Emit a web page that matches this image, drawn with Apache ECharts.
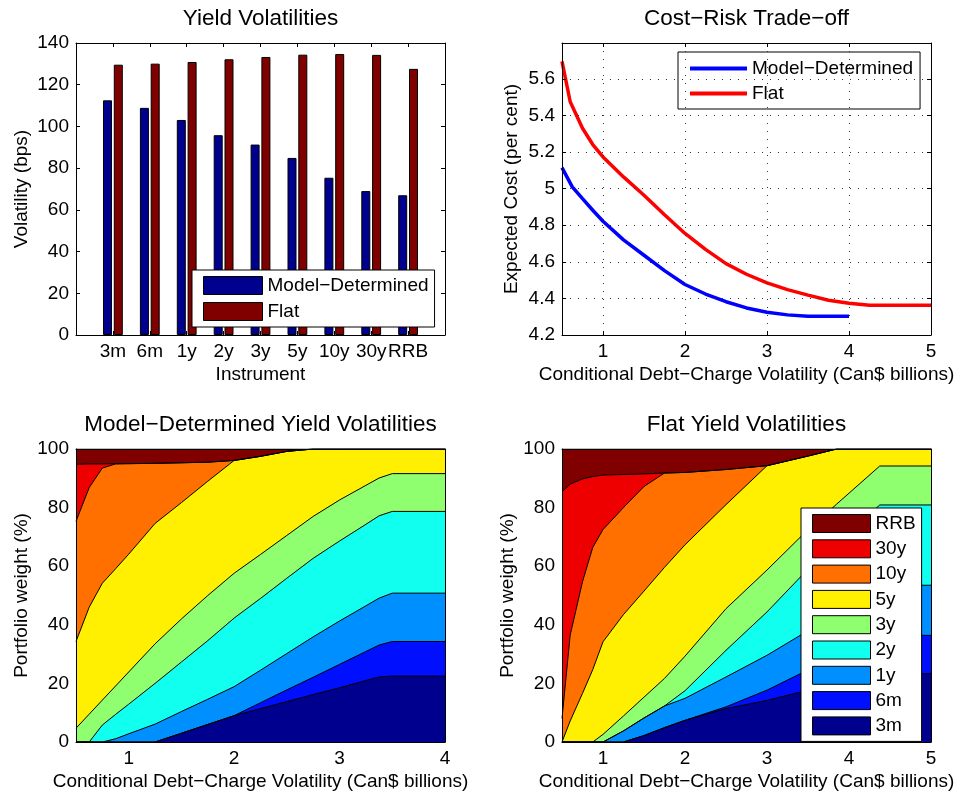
<!DOCTYPE html>
<html><head><meta charset="utf-8">
<script src="https://cdn.jsdelivr.net/npm/echarts@6/dist/echarts.min.js"></script>
<style>html,body{margin:0;padding:0;background:#fff}#c{width:960px;height:799px}</style>
</head><body><div id="c"></div>
<script>
// ---------- data ----------
const instruments = ['3m','6m','1y','2y','3y','5y','10y','30y','RRB'];
const volModel = [112.5,108.9,103.1,95.8,91.3,84.9,75.4,69.0,67.0];
const volFlat  = [129.6,130.1,130.9,132.2,133.3,134.4,134.7,134.3,127.6];

const costModelX = [0.5,0.625,0.75,0.875,1,1.25,1.5,1.75,2,2.25,2.5,2.75,3,3.25,3.5,4];
const costModelY = [5.115,5.01,4.945,4.882,4.822,4.72,4.636,4.552,4.476,4.424,4.382,4.348,4.324,4.31,4.303,4.302];
const costFlatX  = [0.5,0.6,0.75,0.875,1,1.25,1.5,1.75,2,2.25,2.5,2.75,3,3.25,3.5,3.75,4,4.25,4.5,5];
const costFlatY  = [5.696,5.475,5.33,5.241,5.173,5.064,4.964,4.857,4.755,4.668,4.59,4.532,4.485,4.448,4.418,4.39,4.373,4.362,4.362,4.362];

const mdX   = [0.5,0.625,0.75,0.875,1.0,1.25,1.5,1.75,2.0,2.25,2.5,2.75,3.0,3.25,3.375,3.5,4.0];
const md3m  = [0,0,0,0,0,0,3,6,9,11.4,13.8,16.2,18.5,21,22.2,22.5,22.5];
const md6m  = [0,0,0,0,0,0,0,0,0,2,4,5.9,8,9.9,10.9,11.8,11.8];
const md1y  = [0,0,0,1.1,2.8,6.1,7.4,8.6,9.9,11.1,12.4,13.8,14.8,15.6,16,16.5,16.5];
const md2y  = [0,0,5.8,8.3,10.1,13.9,16.9,20,23.4,24.5,25.7,26.8,27.3,27.8,28.1,27.9,27.9];
const md3y  = [4.7,9.5,8.5,9.7,11,13.5,14.7,15.4,15.3,15,14.6,14.3,14,13.3,12.9,12.9,12.9];
const md5y  = [29.6,36.5,39.9,40,40.2,41.1,39.7,39,38.5,33.5,28.7,23,17.4,12.4,9.9,8.4,8.4];
const md10y = [41,40.8,39.3,35.8,30.9,20.5,13.6,6.5,0,0,0,0,0,0,0,0,0];
const md30y = [19.5,8.1,1.4,0.1,0,0,0,0,0,0,0,0,0,0,0,0,0];
const mdRRB = [5.2,5.1,5.1,5,5,4.9,4.7,4.5,3.9,2.5,0.8,0,0,0,0,0,0];

const flX   = [0.5,0.6,0.75,0.875,1.0,1.25,1.5,1.75,2.0,2.5,3.0,3.5,3.85,4.375,5.0];
const fl3m  = [0,0,0,0,0,0,2.2,4.9,7.4,11.4,14.2,17.7,20.3,23.3,23.3];
const fl6m  = [0,0,0,0,0,0,0,0,0,0.6,3.5,6.9,9,13.1,13.1];
const fl1y  = [0,0,0,0,0,3.8,6,7.4,7.5,10.2,11.9,13.4,15,17.1,17.1];
const fl2y  = [0,0,0,0,0,0,0,0,2.6,9.1,14.8,21,23.5,27.4,27.4];
const fl3y  = [0,0,0,0,2.6,5.1,7.1,9.4,11.8,14.2,14.3,13.5,13.4,13.3,13.3];
const fl5y  = [0,7.2,16.6,24.7,31.6,34.6,36.2,37.9,38,35.5,35.6,25.1,18.8,5.8,5.8];
const fl10y = [8,29.3,38.1,41.7,38.3,36.5,35.7,32.2,24.7,12,0,0,0,0,0];
const fl30y = [77.4,51.5,35.1,24.2,18.6,11.3,4.3,0,0,0,0,0,0,0,0];
const flRRB = [14.6,12,10.2,9.4,8.9,8.7,8.5,8.2,8,7,5.7,2.4,0,0,0];

const costTicksX = [1,2,3,4,5];
const mdTicksX = [1,2,3,4];
const flTicksX = [1,2,3,4,5];

// ---------- style ----------
const FONT = '"Liberation Sans", Arial, Helvetica, sans-serif';
const FS = 19;
const jet = ['#00008F','#0010FF','#008FFF','#10FFEF','#8FFF70','#FFEF00','#FF7000','#EF0000','#800000'];
const grids = [
  {left:76,  top:43,  width:369, height:292},
  {left:562, top:43,  width:369, height:292},
  {left:76,  top:449, width:369, height:293},
  {left:562, top:449, width:369, height:293}
];
const labelMap = {barModel:'Model−Determined', barFlat:'Flat', costModel:'Model−Determined', costFlat:'Flat'};

function xAx(gi, pos, min, max, extra) {
  const main = pos === 'bottom';
  const a = {
    type:'value', gridIndex:gi, position:pos, min:min, max:max, z:10,
    axisLine:{show:true, onZero:false, lineStyle:{color:'#000', width:1}},
    axisTick:{show:extra.ticks, inside:true, length:4, lineStyle:{color:'#000'}},
    axisLabel:{show:main, color:'#000', fontSize:FS, fontFamily:FONT, margin:7},
    splitLine:{show:false}
  };
  if (extra.interval) a.interval = extra.interval;
  if (extra.custom) { a.axisTick.customValues = extra.custom; a.axisLabel.customValues = extra.custom; }
  if (extra.formatter && main) a.axisLabel.formatter = extra.formatter;
  if (extra.grid && main) a.splitLine = {show:true, lineStyle:{color:'#333', width:1, type:[1,7]}};
  if (main && extra.name) {
    a.name = extra.name; a.nameLocation = 'middle'; a.nameGap = 30;
    a.nameTextStyle = {color:'#000', fontSize:FS, fontFamily:FONT};
  }
  return a;
}
function yAx(gi, pos, min, max, interval, extra) {
  const main = pos === 'left';
  const a = {
    type:'value', gridIndex:gi, position:pos, min:min, max:max, interval:interval, z:10,
    axisLine:{show:true, onZero:false, lineStyle:{color:'#000', width:1}},
    axisTick:{show:extra.ticks, inside:true, length:4, lineStyle:{color:'#000'}},
    axisLabel:{show:main, color:'#000', fontSize:FS, fontFamily:FONT, margin:7, showMaxLabel:extra.showMax !== false},
    splitLine:{show:false}
  };
  if (extra.grid && main) a.splitLine = {show:true, lineStyle:{color:'#333', width:1, type:[1,7]}};
  if (main && extra.name) {
    a.name = extra.name; a.nameLocation = 'middle'; a.nameGap = extra.nameGap || 45; a.nameRotate = 90;
    a.nameTextStyle = {color:'#000', fontSize:FS, fontFamily:FONT};
  }
  return a;
}

const xAxes = [
  xAx(0,'bottom',0,10,{ticks:true, interval:1, name:'Instrument', formatter:v => (v>=1 && v<=9) ? instruments[v-1] : ''}),
  xAx(0,'top',0,10,{ticks:true, interval:1}),
  xAx(1,'bottom',0.5,5,{ticks:true, custom:costTicksX, grid:true, name:'Conditional Debt−Charge Volatility (Can$ billions)'}),
  xAx(1,'top',0.5,5,{ticks:true, custom:costTicksX}),
  xAx(2,'bottom',0.5,4,{ticks:false, custom:mdTicksX, name:'Conditional Debt−Charge Volatility (Can$ billions)'}),
  xAx(2,'top',0.5,4,{ticks:false, custom:mdTicksX}),
  xAx(3,'bottom',0.5,5,{ticks:false, custom:flTicksX, name:'Conditional Debt−Charge Volatility (Can$ billions)'}),
  xAx(3,'top',0.5,5,{ticks:false, custom:flTicksX})
];
const yAxes = [
  yAx(0,'left',0,140,20,{ticks:true, name:'Volatility (bps)', nameGap:45}),
  yAx(0,'right',0,140,20,{ticks:true}),
  yAx(1,'left',4.2,5.796,0.2,{ticks:true, grid:true, showMax:false, name:'Expected Cost (per cent)', nameGap:41}),
  yAx(1,'right',4.2,5.796,0.2,{ticks:true}),
  yAx(2,'left',0,100,20,{ticks:false, name:'Portfolio weight (%)', nameGap:45}),
  yAx(2,'right',0,100,20,{ticks:false}),
  yAx(3,'left',0,100,20,{ticks:false, name:'Portfolio weight (%)', nameGap:45}),
  yAx(3,'right',0,100,20,{ticks:false})
];

const pair = (xs, ys) => xs.map((x, i) => [x, ys[i]]);
const series = [];
series.push({type:'bar', name:'barModel', xAxisIndex:0, yAxisIndex:0, data:instruments.map((n,i)=>[i+1, volModel[i]]),
  barWidth:9, barGap:'20%', itemStyle:{color:'#00008F', borderColor:'#000', borderWidth:1}});
series.push({type:'bar', name:'barFlat', xAxisIndex:0, yAxisIndex:0, data:instruments.map((n,i)=>[i+1, volFlat[i]]),
  barWidth:9, barGap:'20%', itemStyle:{color:'#800000', borderColor:'#000', borderWidth:1}});
series.push({type:'line', name:'costModel', xAxisIndex:2, yAxisIndex:2, data:pair(costModelX, costModelY), symbol:'none',
  lineStyle:{color:'#0000FF', width:3.5}, itemStyle:{color:'#0000FF'}, z:5});
series.push({type:'line', name:'costFlat', xAxisIndex:2, yAxisIndex:2, data:pair(costFlatX, costFlatY), symbol:'none',
  lineStyle:{color:'#FF0000', width:3.5}, itemStyle:{color:'#FF0000'}, z:5});

const mdSets = [md3m, md6m, md1y, md2y, md3y, md5y, md10y, md30y, mdRRB];
const flSets = [fl3m, fl6m, fl1y, fl2y, fl3y, fl5y, fl10y, fl30y, flRRB];
// cumulative (stacked) tops, computed from the layer arrays
function cumulate(sets) {
  const out = [];
  let run = sets[0].map(() => 0);
  sets.forEach(ys => { run = run.map((v, k) => +(v + ys[k]).toFixed(3)); out.push(run); });
  return out;
}
function addAreas(xs, sets, xi, yi, key) {
  const cum = cumulate(sets);
  for (let i = sets.length - 1; i >= 0; i--) {
    series.push({type:'line', name:instruments[i], xAxisIndex:xi, yAxisIndex:yi, data:pair(xs, cum[i]),
      symbol:'none', lineStyle:{width:0, color:jet[i]}, itemStyle:{color:jet[i]},
      areaStyle:{color:jet[i], opacity:1}, z:2, silent:true});
  }
  for (let i = 0; i < sets.length; i++) {
    series.push({type:'line', name:key + 'Edge' + i, xAxisIndex:xi, yAxisIndex:yi, data:pair(xs, cum[i]),
      symbol:'none', lineStyle:{width:1, color:'#000'}, z:3, silent:true});
  }
}
addAreas(mdX, mdSets, 4, 4, 'md');
addAreas(flX, flSets, 6, 6, 'fl');

const legendBase = {orient:'vertical', backgroundColor:'#fff', borderColor:'#000', borderWidth:1, borderRadius:0,
  textStyle:{color:'#000', fontSize:FS, fontFamily:FONT, lineHeight:18}, selectedMode:false};
const legends = [
  Object.assign({}, legendBase, {left:192, top:270, padding:[6,6,6,11], itemWidth:59, itemHeight:18, itemGap:7, icon:'rect',
    data:['barModel','barFlat'], formatter:n => labelMap[n], itemStyle:{borderColor:'#000', borderWidth:1}}),
  Object.assign({}, legendBase, {left:678, top:52, padding:[7,7,6,12], itemWidth:57, itemHeight:4, itemGap:6, icon:'rect',
    data:['costModel','costFlat'], formatter:n => labelMap[n], itemStyle:{borderWidth:0}}),
  Object.assign({}, legendBase, {left:801, top:508, padding:[6,6,6,11], itemWidth:58, itemHeight:18, itemGap:6.3, icon:'rect',
    data:instruments.slice().reverse(), itemStyle:{borderColor:'#000', borderWidth:1}})
];

const titleFont = {fontSize:22.5, fontFamily:FONT, fill:'#000'};
const titles = [
  {text:'Yield Volatilities', x:260.5, y:7},
  {text:'Cost−Risk Trade−off', x:746.5, y:7},
  {text:'Model−Determined Yield Volatilities', x:260.5, y:413},
  {text:'Flat Yield Volatilities', x:746.5, y:413}
];

const chart = echarts.init(document.getElementById('c'), null, {renderer:'canvas'});
chart.setOption({
  backgroundColor:'#fff',
  animation:false,
  grid:grids,
  xAxis:xAxes,
  yAxis:yAxes,
  legend:legends,
  graphic:titles.map(t => ({type:'text', x:t.x, y:t.y, z:20,
    style:Object.assign({text:t.text, align:'center', verticalAlign:'top'}, titleFont)})),
  series:series
});
</script></body></html>
